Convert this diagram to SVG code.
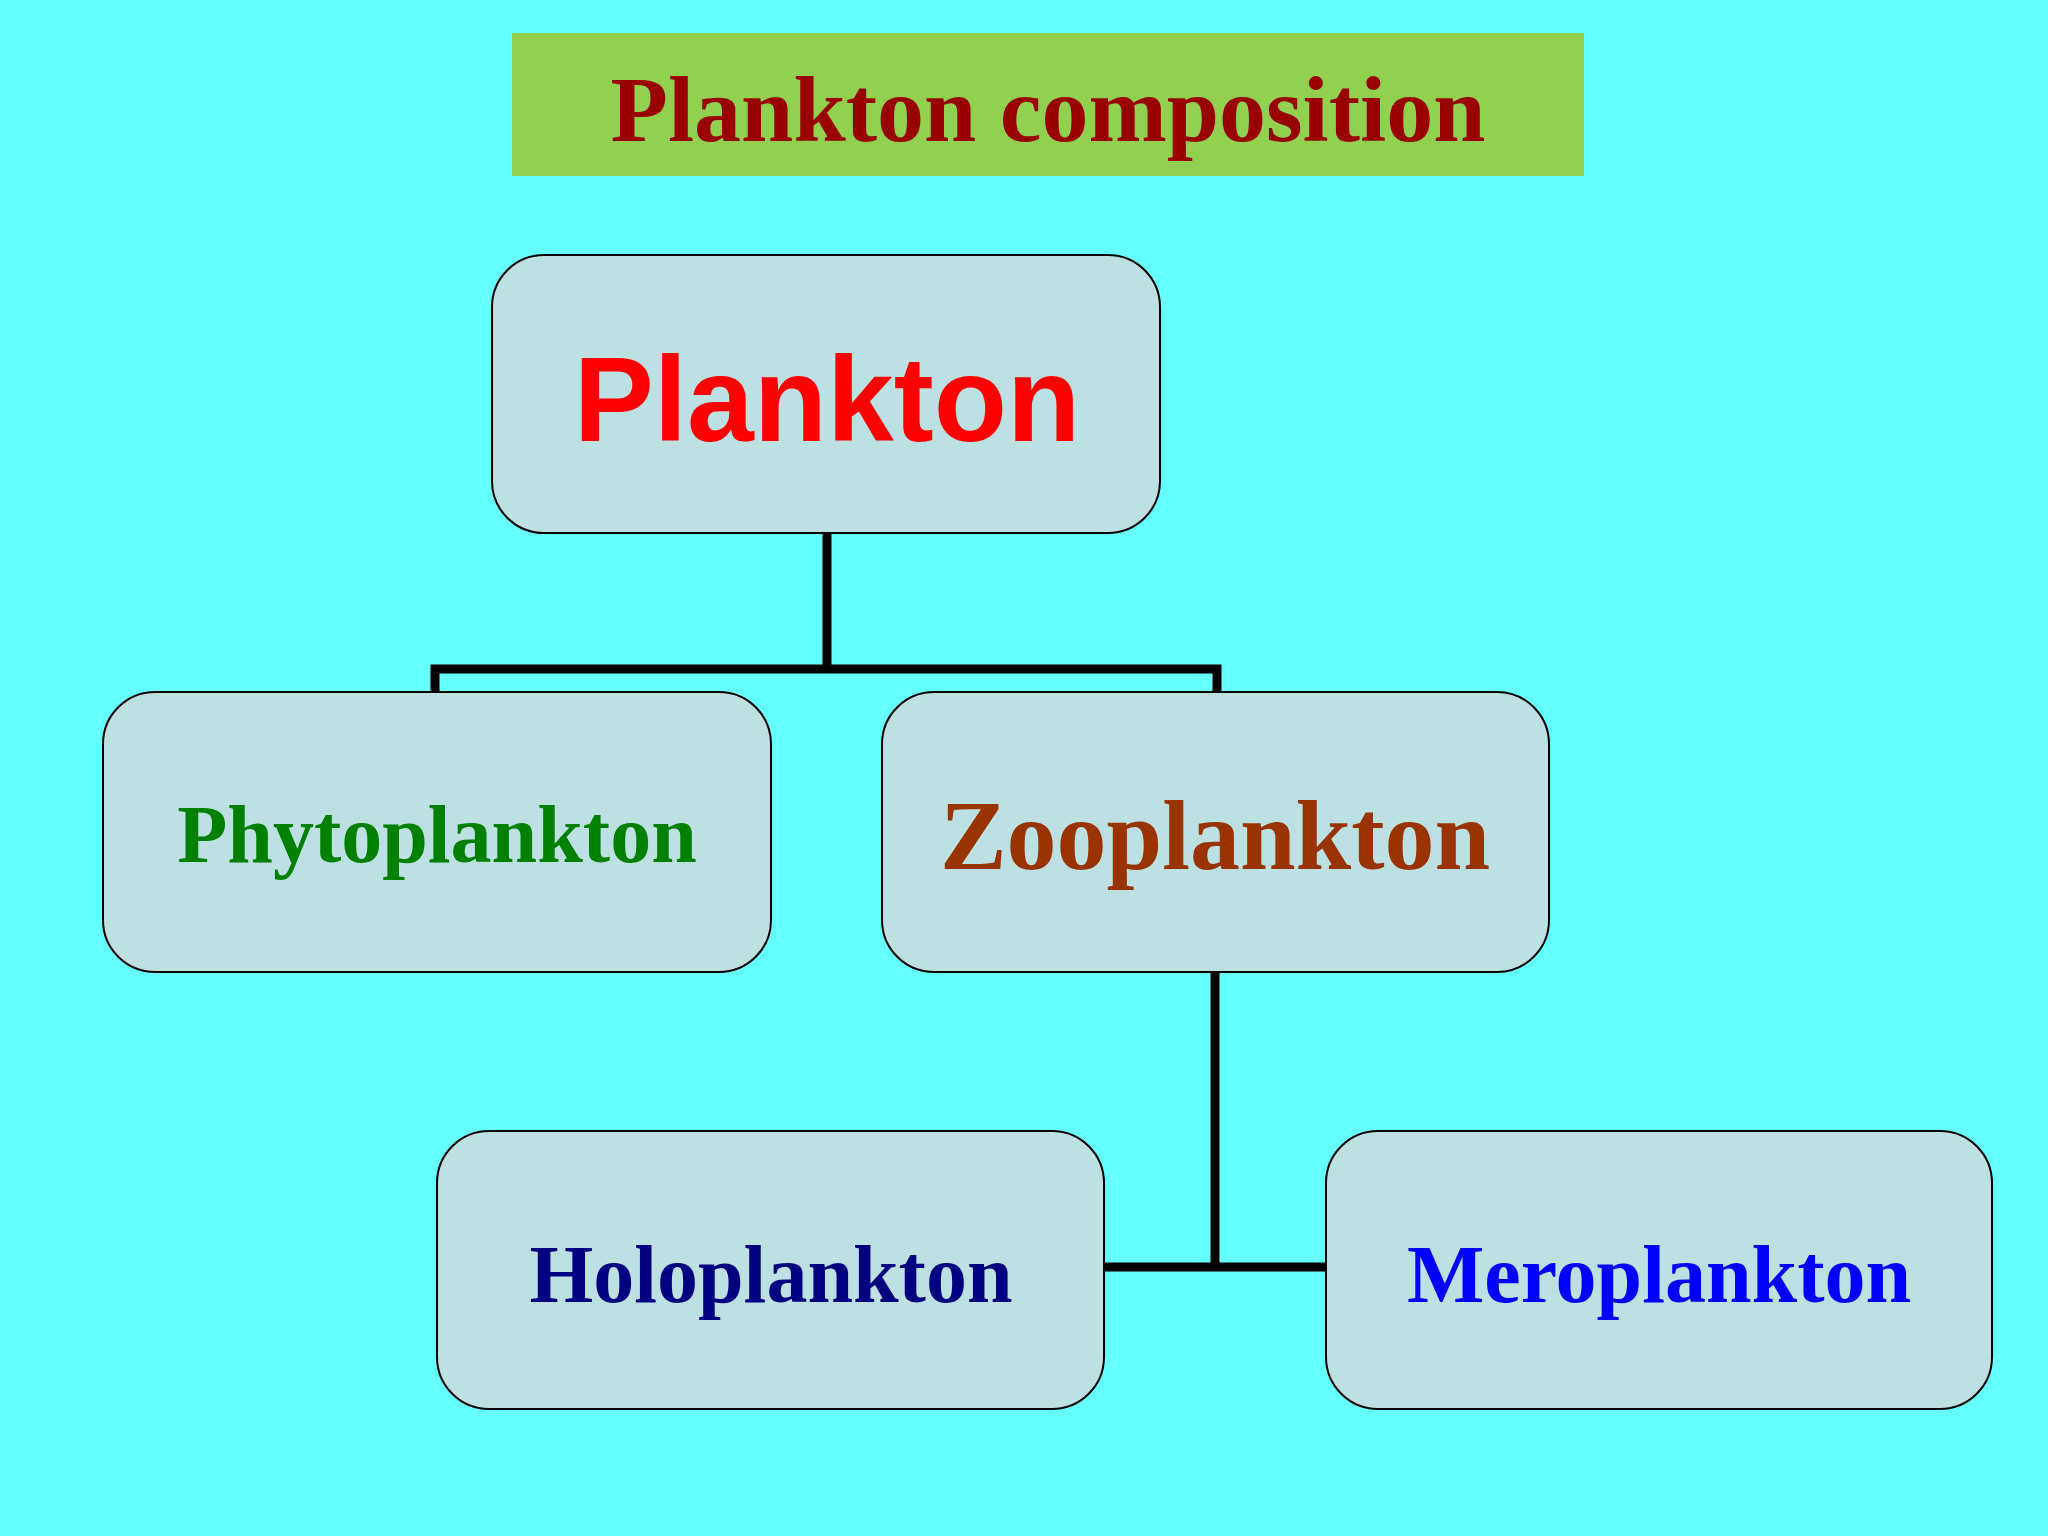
<svg xmlns="http://www.w3.org/2000/svg" width="2048" height="1536" viewBox="0 0 2048 1536">
<style>
.box{fill:#bde0e3;stroke:#000;stroke-width:2}
.t{font-family:"Liberation Serif",serif;font-weight:bold;text-anchor:middle}
.c{fill:none;stroke:#000;stroke-width:9}
</style>
<rect width="2048" height="1536" fill="#66ffff"/>
<g id="title">
<rect x="512" y="33" width="1072" height="143" fill="#92d050"/>
<text class="t" x="1048" y="141" font-size="94" fill="#990000">Plankton composition</text>
</g>
<g id="connectors">
<path class="c" d="M827 533V669M435 692V669H1217V692"/>
<path class="c" d="M1215 972V1267M1104 1267H1326"/>
</g>
<g id="plankton">
<rect class="box" x="492" y="255" width="668" height="278" rx="52"/>
<text x="827" y="441" font-family="Liberation Sans,sans-serif" font-weight="bold" font-size="120" fill="#ff0000" text-anchor="middle">Plankton</text>
</g>
<g id="phyto">
<rect class="box" x="103" y="692" width="668" height="280" rx="52"/>
<text class="t" x="437" y="862" font-size="82" fill="#008000">Phytoplankton</text>
</g>
<g id="zoo">
<rect class="box" x="882" y="692" width="667" height="280" rx="52"/>
<text class="t" x="1215" y="869" font-size="100" fill="#993300">Zooplankton</text>
</g>
<g id="holo">
<rect class="box" x="437" y="1131" width="667" height="278" rx="52"/>
<text class="t" x="771" y="1302" font-size="82" fill="#000080">Holoplankton</text>
</g>
<g id="mero">
<rect class="box" x="1326" y="1131" width="666" height="278" rx="52"/>
<text class="t" x="1659" y="1302" font-size="82" fill="#0000ff">Meroplankton</text>
</g>
</svg>
